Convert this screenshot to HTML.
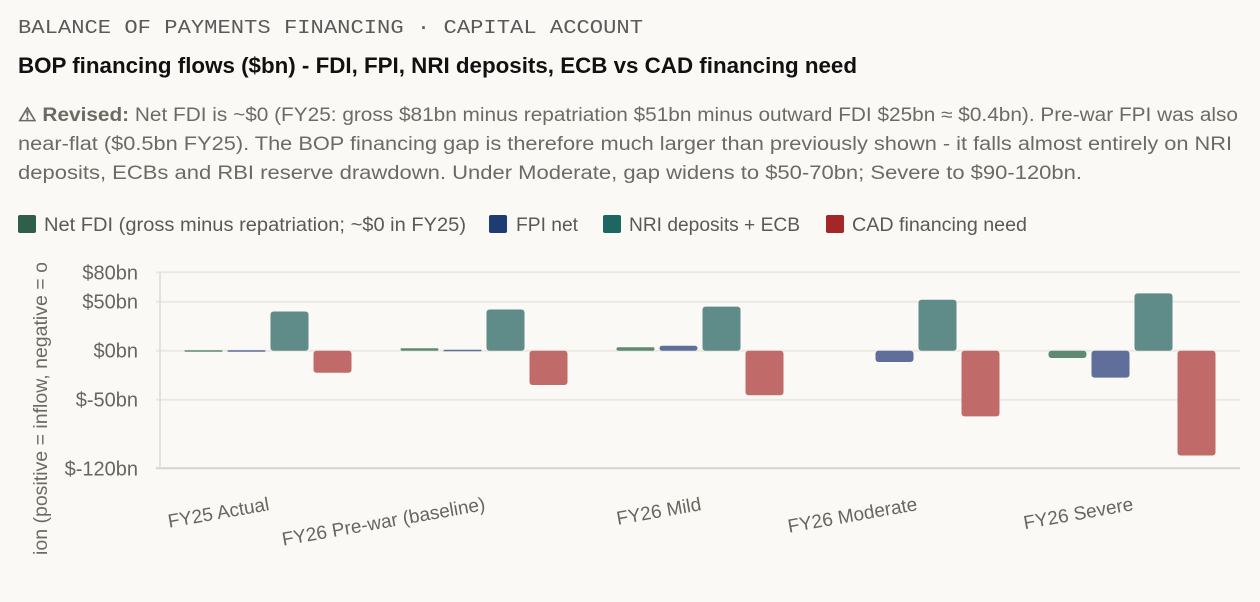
<!DOCTYPE html>
<html><head><meta charset="utf-8"><style>
html,body{margin:0;padding:0;background:#fbf9f5;}
svg{display:block;font-family:"Liberation Sans Narrow","Liberation Sans",sans-serif;}
</style></head><body>
<svg id="c" width="1260" height="602" viewBox="0 0 1260 602">
<rect width="1260" height="602" fill="#fbf9f5"/>
<text x="18" y="33" font-family="Liberation Mono, monospace" font-size="19" fill="#5a5a5a" textLength="625" lengthAdjust="spacingAndGlyphs">BALANCE OF PAYMENTS FINANCING · CAPITAL ACCOUNT</text>
<text x="18" y="73" font-size="22" font-weight="bold" fill="#111" textLength="839" lengthAdjust="spacingAndGlyphs">BOP financing flows ($bn) - FDI, FPI, NRI deposits, ECB vs CAD financing need</text>
<g font-size="19" fill="#6b6b63">
<text x="18" y="121" textLength="1220" lengthAdjust="spacingAndGlyphs"><tspan font-weight="bold">⚠ Revised:</tspan> Net FDI is ~$0 (FY25: gross $81bn minus repatriation $51bn minus outward FDI $25bn ≈ $0.4bn). Pre-war FPI was also</text>
<text x="18" y="150" textLength="1214" lengthAdjust="spacingAndGlyphs">near-flat ($0.5bn FY25). The BOP financing gap is therefore much larger than previously shown - it falls almost entirely on NRI</text>
<text x="18" y="179" textLength="1064" lengthAdjust="spacingAndGlyphs">deposits, ECBs and RBI reserve drawdown. Under Moderate, gap widens to $50-70bn; Severe to $90-120bn.</text>
</g>
<g font-size="19" fill="#5a5a55">
<g><rect x="18" y="215" width="18" height="18" rx="2" fill="#2f5e4b"/><text x="44" y="231" textLength="422" lengthAdjust="spacingAndGlyphs">Net FDI (gross minus repatriation; ~$0 in FY25)</text></g>
<g><rect x="489" y="215" width="18" height="18" rx="2" fill="#1f3b73"/><text x="516" y="231" textLength="62" lengthAdjust="spacingAndGlyphs">FPI net</text></g>
<g><rect x="603" y="215" width="18" height="18" rx="2" fill="#1d6661"/><text x="629" y="231" textLength="171" lengthAdjust="spacingAndGlyphs">NRI deposits + ECB</text></g>
<g><rect x="826" y="215" width="18" height="18" rx="2" fill="#a32628"/><text x="852" y="231" textLength="175" lengthAdjust="spacingAndGlyphs">CAD financing need</text></g>
</g>
<text transform="translate(47,555) rotate(-90)" font-size="19" fill="#6b6b63" textLength="293" lengthAdjust="spacingAndGlyphs">ion (positive = inflow, negative = o</text>
<g id="plot"></g>
</svg>
<script>
const categories=["FY25 Actual","FY26 Pre-war (baseline)","FY26 Mild","FY26 Moderate","FY26 Severe"];
const fdiValues=[0.4,2.5,3.5,0,-7.5];
const fpiValues=[0.5,1,5,-11.5,-27.5];
const nriValues=[40,42,45,52,58.5];
const cadValues=[-22.5,-35,-45.5,-67,-107];
const tickValues=[80,50,0,-50,-120];
const tickLabels=["$80bn","$50bn","$0bn","$-50bn","$-120bn"];
const seriesNames=["fdi","fpi","nri","cad"];
const seriesColors=["#5f8a72","#5f6e9b","#5f8b88","#c06a6a"];
const NS="http://www.w3.org/2000/svg";
const plot=document.getElementById('plot');
const X0=160,X1=1240,Y0=468.3,Y1=272.3,DMIN=-120,DMAX=80;
function y(v){return Y0+(v-DMIN)/(DMAX-DMIN)*(Y1-Y0);}
const band=(X1-X0)/categories.length;
function xc(i){return X0+band*(i+0.5);}
function mk(tag,attrs){const e=document.createElementNS(NS,tag);for(const k in attrs)e.setAttribute(k,attrs[k]);plot.appendChild(e);return e;}
tickValues.forEach((t,i)=>{
  const g=mk('line',{x1:X0-4,x2:X1,y1:y(t),y2:y(t),stroke:i===tickValues.length-1?'#d6d4cf':'#ebe9e4','stroke-width':2});
  
  
  const tx=mk('text',{x:138,y:y(t)+7,'text-anchor':'end','font-size':20,fill:'#66665f'});
  tx.textContent=tickLabels[i];
  
  
});
const ax=mk('line',{x1:X0,x2:X0,y1:Y1,y2:Y0,stroke:'#dcdad5','stroke-width':1.5});


const allSeries=[fdiValues,fpiValues,nriValues,cadValues];
const bw=38,step=43;
categories.forEach((c,i)=>{
  allSeries.forEach((vals,s)=>{
    const v=vals[i];
    if(v===0)return;
    const x=xc(i)-2*step+s*step+2.5;
    const top=Math.min(y(v),y(0)),h=Math.max(Math.abs(y(v)-y(0)),1.5);
    const r=mk('rect',{x:x,y:top,width:bw,height:h,rx:Math.min(3,h/2),fill:seriesColors[s]});
    
    
  });
  const lx=xc(i)+2,ly=510;
  const t=mk('text',{x:lx,y:ly,'text-anchor':'end','font-family':'Liberation Sans, sans-serif','font-size':19,fill:'#66665f',transform:'rotate(-10 '+lx+' '+ly+')'});
  t.textContent=c;
  
  
});
</script>
</body></html>
